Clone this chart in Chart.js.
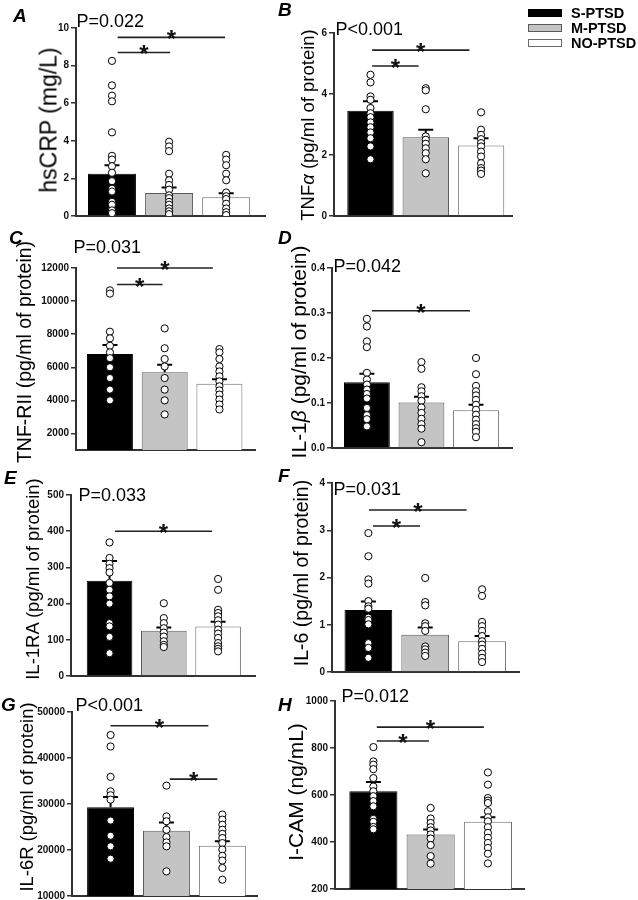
<!DOCTYPE html>
<html><head><meta charset="utf-8">
<script src="https://cdn.jsdelivr.net/npm/chart.js@4.4.1/dist/chart.umd.min.js"></script>
<style>
html,body{margin:0;padding:0;background:#fff;}
body{position:relative;width:638px;height:900px;overflow:hidden;font-family:"Liberation Sans",Arial,Helvetica,sans-serif;color:#000;}
canvas{position:absolute;}
.t{position:absolute;white-space:nowrap;line-height:1;}
.letter{font-weight:bold;font-style:italic;font-size:19px;}
.pv{font-size:18px;}
.yt{position:absolute;white-space:nowrap;line-height:1;transform:translate(-50%,-50%) rotate(-90deg);}
.lg{position:absolute;font-weight:bold;font-size:14.5px;line-height:1;white-space:nowrap;}
.sw{position:absolute;width:34px;height:8px;box-sizing:border-box;border:1px solid #555;}
</style></head><body>
<script>
const groups = ['S-PTSD', 'M-PTSD', 'NO-PTSD'];

// A: hsCRP (mg/L)
const crpMean = [2.25, 1.22, 1.0];
const crpSem = [0.45, 0.29, 0.21];
const crpS = [8.25, 6.95, 6.4, 6.1, 4.45, 3.2, 3.0, 2.65, 2.3, 1.85, 1.45, 1.3, 0.75, 0.6, 0.3, 0.15];
const crpM = [3.95, 3.7, 3.45, 2.25, 1.9, 1.65, 1.4, 1.1, 0.95, 0.75, 0.6, 0.4, 0.25, 0.1];
const crpN = [3.25, 3.0, 2.7, 2.25, 1.9, 1.25, 1.05, 0.9, 0.65, 0.4, 0.2, 0.05];
const crpTicks = [0, 2, 4, 6, 8, 10];
const crpSig = [[0.1, 1.98, 9.5], [0.1, 1.02, 8.7]];

// B: TNFa
const tnfMean = [3.45, 2.58, 2.31];
const tnfSem = [0.31, 0.25, 0.24];
const tnfS = [4.63, 4.38, 3.92, 3.81, 3.54, 3.37, 3.24, 3.07, 2.91, 2.74, 2.55, 2.28, 1.86];
const tnfM = [4.19, 4.12, 3.50, 2.61, 2.50, 2.37, 2.22, 2.06, 1.86, 1.40];
const tnfN = [3.40, 2.83, 2.66, 2.52, 2.39, 2.28, 2.11, 1.95, 1.73, 1.57, 1.49, 1.38];
const tnfTicks = [0, 2, 4, 6];
const tnfSig = [[0.03, 1.79, 5.44], [0.03, 0.87, 4.92]];

// C: TNF-RII
const rMean = [6800, 5700, 5000];
const rSem = [550, 450, 280];
const rS = [10650, 10450, 8150, 7750, 7300, 6900, 6550, 6000, 5350, 4650, 4000];
const rM = [8350, 7150, 6500, 6050, 5350, 4650, 4000, 3150];
const rN = [7100, 6900, 6500, 6050, 5750, 5450, 5150, 4850, 4600, 4350, 4050, 3750, 3450];
const rTicks = [2000, 4000, 6000, 8000, 10000, 12000];
const rSig = [[0.13, 1.88, 12000], [0.13, 0.96, 11000]];

// D: IL-1b
const ilbMean = [0.146, 0.101, 0.084];
const ilbSem = [0.019, 0.013, 0.012];
const ilbS = [0.287, 0.270, 0.237, 0.224, 0.167, 0.152, 0.141, 0.130, 0.120, 0.110, 0.089, 0.073, 0.064, 0.048];
const ilbM = [0.191, 0.176, 0.135, 0.126, 0.115, 0.105, 0.090, 0.078, 0.065, 0.053, 0.043, 0.013];
const ilbN = [0.200, 0.164, 0.138, 0.126, 0.117, 0.107, 0.096, 0.085, 0.074, 0.063, 0.053, 0.044, 0.036, 0.024];
const ilbTicks = [0, 0.1, 0.2, 0.3, 0.4];
const ilbSig = [[0.09, 1.89, 0.305]];

// E: IL-1RA
const raMean = [263, 125, 137];
const raSem = [55, 9, 13];
const raS = [369, 326, 310, 298, 286, 257, 238, 220, 200, 146, 137, 108, 63];
const raM = [201, 160, 146, 132, 120, 109, 96, 86, 80];
const raN = [268, 238, 183, 174, 165, 154, 142, 128, 117, 105, 91, 82, 75, 68];
const raTicks = [0, 100, 200, 300, 400, 500];
const raSig = [[0.1, 1.89, 400]];

// F: IL-6
const il6Mean = [1.31, 0.79, 0.65];
const il6Sem = [0.18, 0.15, 0.11];
const il6S = [2.94, 2.45, 1.96, 1.87, 1.50, 1.39, 1.34, 1.15, 1.10, 1.01, 0.61, 0.51, 0.30];
const il6M = [1.99, 1.48, 1.41, 1.03, 0.97, 0.87, 0.54, 0.48, 0.41, 0.34];
const il6N = [1.75, 1.61, 1.06, 0.97, 0.87, 0.76, 0.65, 0.58, 0.49, 0.39, 0.30, 0.21];
const il6Ticks = [0, 1, 2, 3, 4];
const il6Sig = [[0.01, 1.73, 3.43], [0.08, 0.91, 3.09]];

// G: IL-6R
const il6rMean = [29300, 24200, 20950];
const il6rSem = [2200, 1800, 950];
const il6rS = [45000, 42500, 35900, 32750, 31900, 30950, 26400, 23100, 20800, 18100];
const il6rM = [34000, 27300, 26250, 24400, 22800, 21650, 20800, 15350];
const il6rN = [27700, 26600, 25500, 24400, 23500, 22600, 21500, 20100, 18750, 17700, 16100, 13550];
const il6rTicks = [10000, 20000, 30000, 40000, 50000];
const il6rSig = [[0.0, 1.75, 47000], [1.06, 1.91, 35400]];

// H: I-CAM
const icamMean = [616, 432, 486];
const icamSem = [39, 21, 19];
const icamS = [804, 743, 729, 710, 672, 636, 616, 595, 574, 552, 498, 486, 464, 454];
const icamM = [545, 500, 481, 463, 449, 432, 415, 387, 340, 308];
const icamN = [696, 644, 587, 576, 566, 531, 505, 488, 463, 439, 418, 396, 375, 350, 309];
const icamTicks = [200, 400, 600, 800, 1000];
const icamSig = [[0.06, 1.93, 889], [0.06, 0.97, 830]];

const FONT = '"Liberation Sans", Arial, Helvetica, sans-serif';
const barFill = ['#000000', '#c4c4c4', '#ffffff'];
const barEdge = ['#000000', '#5a5a5a', '#6a6a6a'];
const intFmt = v => String(v);

const panels = [
  {mean: crpMean, sem: crpSem, pts: [crpS, crpM, crpN], ticks: crpTicks, yr: [0, 10], sig: crpSig, box: [76, 28, 265, 216], xr: [-0.63, 2.68], fmt: intFmt},
  {mean: tnfMean, sem: tnfSem, pts: [tnfS, tnfM, tnfN], ticks: tnfTicks, yr: [0, 6], sig: tnfSig, box: [334, 33, 512, 216], xr: [-0.66, 2.56], fmt: intFmt},
  {mean: rMean, sem: rSem, pts: [rS, rM, rN], ticks: rTicks, yr: [1000, 12000], sig: rSig, box: [76, 268, 255, 450], xr: [-0.62, 2.65], fmt: intFmt},
  {mean: ilbMean, sem: ilbSem, pts: [ilbS, ilbM, ilbN], ticks: ilbTicks, yr: [0, 0.4], sig: ilbSig, box: [332, 268, 512, 448], xr: [-0.64, 2.66], fmt: v => v.toFixed(1)},
  {mean: raMean, sem: raSem, pts: [raS, raM, raN], ticks: raTicks, yr: [0, 500], sig: raSig, box: [71, 495, 255, 676], xr: [-0.71, 2.68], fmt: intFmt},
  {mean: il6Mean, sem: il6Sem, pts: [il6S, il6M, il6N], ticks: il6Ticks, yr: [0, 4], sig: il6Sig, box: [332, 483, 519, 672], xr: [-0.64, 2.65], fmt: intFmt},
  {mean: il6rMean, sem: il6rSem, pts: [il6rS, il6rM, il6rN], ticks: il6rTicks, yr: [10000, 50000], sig: il6rSig, box: [72, 712, 257, 896], xr: [-0.69, 2.62], fmt: intFmt},
  {mean: icamMean, sem: icamSem, pts: [icamS, icamM, icamN], ticks: icamTicks, yr: [200, 1000], sig: icamSig, box: [335, 701, 524, 889], xr: [-0.67, 2.63], fmt: intFmt}
];

function decor(p) {
  return {
    id: 'decor',
    afterDatasetDraw(chart, args) {
      if (args.meta.type !== 'bar') return;
      const ctx = chart.ctx, ys = chart.scales.y;
      ctx.save();
      ctx.strokeStyle = '#000';
      ctx.lineWidth = 2;
      args.meta.data.forEach((el, i) => {
        const yt = ys.getPixelForValue(p.mean[i] + p.sem[i]);
        ctx.beginPath();
        ctx.moveTo(el.x, el.y);
        ctx.lineTo(el.x, yt);
        ctx.moveTo(el.x - 7.5, yt);
        ctx.lineTo(el.x + 7.5, yt);
        ctx.stroke();
      });
      ctx.restore();
    },
    afterDatasetsDraw(chart) {
      const ctx = chart.ctx, xs = chart.scales.x, ys = chart.scales.y;
      ctx.save();
      ctx.strokeStyle = '#222';
      ctx.lineWidth = 1.6;
      ctx.fillStyle = '#111';
      ctx.font = 'bold 24px ' + FONT;
      ctx.textAlign = 'center';
      ctx.textBaseline = 'alphabetic';
      p.sig.forEach(([a, b, v]) => {
        const x1 = xs.getPixelForValue(a), x2 = xs.getPixelForValue(b), y = ys.getPixelForValue(v);
        ctx.beginPath();
        ctx.moveTo(x1, y);
        ctx.lineTo(x2, y);
        ctx.stroke();
        ctx.fillText('*', (x1 + x2) / 2, y + 10);
      });
      ctx.restore();
    }
  };
}

panels.forEach((p) => {
  const [L, T, R, B] = p.box;
  const padL = 70, padT = 25, padR = 10, padB = 12;
  const cv = document.createElement('canvas');
  cv.width = R - L + padL + padR;
  cv.height = B - T + padT + padB;
  cv.style.left = (L - padL) + 'px';
  cv.style.top = (T - padT) + 'px';
  cv.style.width = cv.width + 'px';
  cv.style.height = cv.height + 'px';
  document.body.appendChild(cv);
  const pts = [];
  p.pts.forEach((arr, i) => arr.forEach(v => pts.push({x: i, y: v})));
  new Chart(cv, {
    type: 'bar',
    data: {
      datasets: [
        {type: 'scatter', data: pts, order: 0, pointRadius: 3.6, pointHoverRadius: 3.6, pointBorderWidth: 1,
         pointBackgroundColor: '#ffffff', pointBorderColor: '#000000'},
        {type: 'bar', data: p.mean.map((m, i) => ({x: i, y: m})), order: 1,
         backgroundColor: barFill, borderColor: barEdge, borderWidth: 1,
         barPercentage: 0.84, categoryPercentage: 1}
      ]
    },
    options: {
      responsive: false, animation: false, devicePixelRatio: 1, events: [],
      layout: {padding: {left: 0, top: padT, right: padR, bottom: padB}},
      plugins: {legend: {display: false}, tooltip: {enabled: false}},
      scales: {
        x: {type: 'linear', min: p.xr[0], max: p.xr[1], offset: false, bounds: 'data',
            afterBuildTicks(s) { s.ticks = groups.map((g, i) => ({value: i})); },
            ticks: {display: false}, grid: {display: false, offset: false},
            border: {display: true, color: '#333', width: 2},
            afterFit(s) { s.height = 0; }},
        y: {type: 'linear', min: p.yr[0], max: p.yr[1],
            afterBuildTicks(s) { s.ticks = p.ticks.map(v => ({value: v})); },
            afterFit(s) { s.width = padL; },
            ticks: {font: {family: FONT, weight: 'bold', size: 10}, color: '#111', padding: 2,
                    callback: (v) => p.fmt(v)},
            grid: {display: true, drawOnChartArea: false, drawTicks: true, tickLength: 5, color: '#333', lineWidth: 1.5},
            border: {display: true, color: '#333', width: 2}}
      }
    },
    plugins: [decor(p)]
  });
});

// text overlays
const letters = [['A', 13, 6], ['B', 278, 0], ['C', 9, 228], ['D', 278, 228], ['E', 4, 468], ['F', 278, 466], ['G', 1, 695], ['H', 278, 695]];
letters.forEach(([s, x, y]) => {
  const d = document.createElement('div');
  d.className = 't letter'; d.textContent = s;
  d.style.left = x + 'px'; d.style.top = y + 'px';
  document.body.appendChild(d);
});
const pvals = [['P=0.022', 76.5, 12], ['P<0.001', 335.5, 19.5], ['P=0.031', 73.5, 238], ['P=0.042', 333.5, 256.5],
               ['P=0.033', 78.5, 485.5], ['P=0.031', 333.5, 480], ['P<0.001', 75.5, 696], ['P=0.012', 341.5, 687]];
pvals.forEach(([s, x, y]) => {
  const d = document.createElement('div');
  d.className = 't pv'; d.textContent = s;
  d.style.left = x + 'px'; d.style.top = y + 'px';
  document.body.appendChild(d);
});
const ytitles = [
  ['hsCRP (mg/L)', 49, 120, 23],
  ['TNF<i>α</i> (pg/ml of protein)', 308, 125, 18.5],
  ['TNF-RII (pg/ml of protein)', 25, 352, 19.5],
  ['IL-1<i>β</i> (pg/ml of protein)', 298, 352, 21],
  ['IL-1RA (pg/ml of protein)', 33, 579, 18.5],
  ['IL-6 (pg/ml of protein)', 302, 573, 19.5],
  ['IL-6R (pg/ml of protein)', 27, 797, 18.4],
  ['I-CAM (ng/mL)', 295, 792, 21]
];
ytitles.forEach(([s, x, y, f]) => {
  const d = document.createElement('div');
  d.className = 'yt'; d.innerHTML = s;
  d.style.left = x + 'px'; d.style.top = y + 'px'; d.style.fontSize = f + 'px';
  document.body.appendChild(d);
});
// legend
const legY = [12.7, 28, 43];
groups.forEach((g, i) => {
  const sw = document.createElement('div');
  sw.className = 'sw';
  sw.style.left = '528px'; sw.style.top = (legY[i] - 4) + 'px';
  sw.style.background = barFill[i];
  sw.style.borderColor = i === 0 ? '#000' : barEdge[i];
  document.body.appendChild(sw);
  const t = document.createElement('div');
  t.className = 'lg'; t.textContent = g;
  t.style.left = '571px'; t.style.top = (legY[i] - 7.1) + 'px';
  document.body.appendChild(t);
});
</script>
</body></html>
